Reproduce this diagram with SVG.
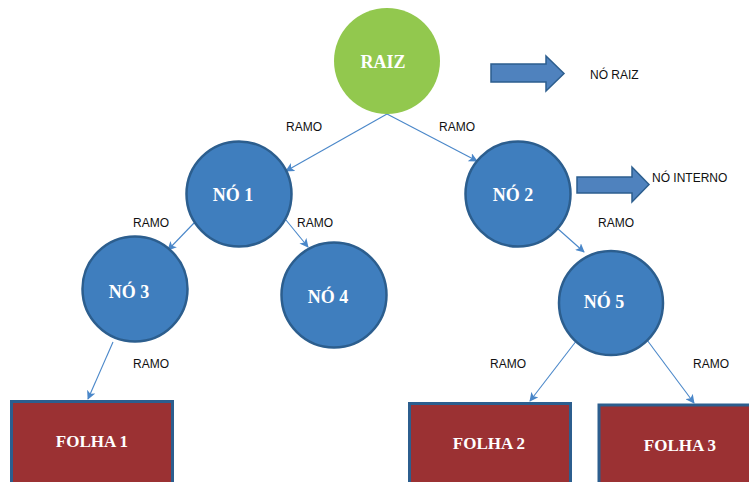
<svg xmlns="http://www.w3.org/2000/svg" width="749" height="482" viewBox="0 0 749 482">
  <style>
    .node { fill: #3F7EBE; stroke: #2C5E8E; stroke-width: 2.5; }
    .root { fill: #92C84E; }
    .leaf { fill: #9B3133; stroke: #2C5E8E; stroke-width: 3; }
    .big  { fill: #4F82BE; stroke: #2C5E8E; stroke-width: 1.5; }
    .name { font-family: "Liberation Serif", "Times New Roman", serif; font-weight: bold; fill: #ffffff; text-anchor: middle; }
    .lbl  { font-family: "Liberation Sans", Arial, sans-serif; font-size: 12px; fill: #111111; }
    .edge { stroke: #4A87C9; stroke-width: 1.1; fill: none; marker-end: url(#tip); }
  </style>
  <defs>
    <marker id="tip" viewBox="0 0 10 10" refX="9" refY="5" markerWidth="9" markerHeight="9" markerUnits="userSpaceOnUse" orient="auto">
      <path d="M0,0 L10,5 L0,10 L2.5,5 Z" fill="#4A87C9"/>
    </marker>
  </defs>

  <rect width="749" height="482" fill="#ffffff"/>

  <!-- connectors -->
  <g id="edges">
    <line class="edge" x1="387" y1="114" x2="286" y2="171"/>
    <line class="edge" x1="387" y1="114" x2="477" y2="161"/>
    <line class="edge" x1="194" y1="223" x2="168" y2="250"/>
    <line class="edge" x1="286" y1="220" x2="308" y2="247"/>
    <line class="edge" x1="557" y1="228" x2="584" y2="252"/>
    <line class="edge" x1="113" y1="342" x2="88" y2="399"/>
    <line class="edge" x1="577" y1="340" x2="530" y2="401"/>
    <line class="edge" x1="647" y1="340" x2="694" y2="403"/>
  </g>

  <!-- branch labels -->
  <g id="labels">
    <text class="lbl" x="286" y="131">RAMO</text>
    <text class="lbl" x="439" y="131">RAMO</text>
    <text class="lbl" x="133" y="227">RAMO</text>
    <text class="lbl" x="297" y="227">RAMO</text>
    <text class="lbl" x="598" y="227">RAMO</text>
    <text class="lbl" x="133" y="368">RAMO</text>
    <text class="lbl" x="490" y="368">RAMO</text>
    <text class="lbl" x="693" y="368">RAMO</text>
  </g>

  <!-- callout arrows -->
  <g id="callout-root">
    <path class="big" d="M491,64 H546 V56 L564,73.5 L546,91 V82 H491 Z"/>
    <text class="lbl" x="590" y="79">NÓ RAIZ</text>
  </g>
  <g id="callout-internal">
    <path class="big" d="M577,177 H632 V167 L649,184.5 L632,202 V193 H577 Z"/>
    <text class="lbl" x="652" y="182">NÓ INTERNO</text>
  </g>

  <!-- tree nodes -->
  <g id="raiz">
    <circle class="root" cx="387" cy="61" r="53"/>
    <text class="name" x="383" y="68" font-size="18">RAIZ</text>
  </g>
  <g id="no1">
    <circle class="node" cx="239" cy="194" r="52.5"/>
    <text class="name" x="233" y="201" font-size="18">NÓ 1</text>
  </g>
  <g id="no2">
    <circle class="node" cx="518" cy="194" r="52.5"/>
    <text class="name" x="513" y="201" font-size="18">NÓ 2</text>
  </g>
  <g id="no3">
    <circle class="node" cx="135" cy="289" r="52.5"/>
    <text class="name" x="129" y="298" font-size="18">NÓ 3</text>
  </g>
  <g id="no4">
    <circle class="node" cx="334" cy="295" r="52.5"/>
    <text class="name" x="328" y="303" font-size="18">NÓ 4</text>
  </g>
  <g id="no5">
    <circle class="node" cx="611" cy="303" r="52"/>
    <text class="name" x="604" y="308" font-size="18">NÓ 5</text>
  </g>

  <!-- leaves -->
  <g id="folha1">
    <rect class="leaf" x="11.5" y="401.5" width="161" height="82"/>
    <text class="name" x="92" y="447" font-size="17">FOLHA 1</text>
  </g>
  <g id="folha2">
    <rect class="leaf" x="409.5" y="403.5" width="161" height="82"/>
    <text class="name" x="489" y="449" font-size="17">FOLHA 2</text>
  </g>
  <g id="folha3">
    <rect class="leaf" x="599" y="405" width="160" height="82"/>
    <text class="name" x="680" y="451" font-size="17">FOLHA 3</text>
  </g>
</svg>
